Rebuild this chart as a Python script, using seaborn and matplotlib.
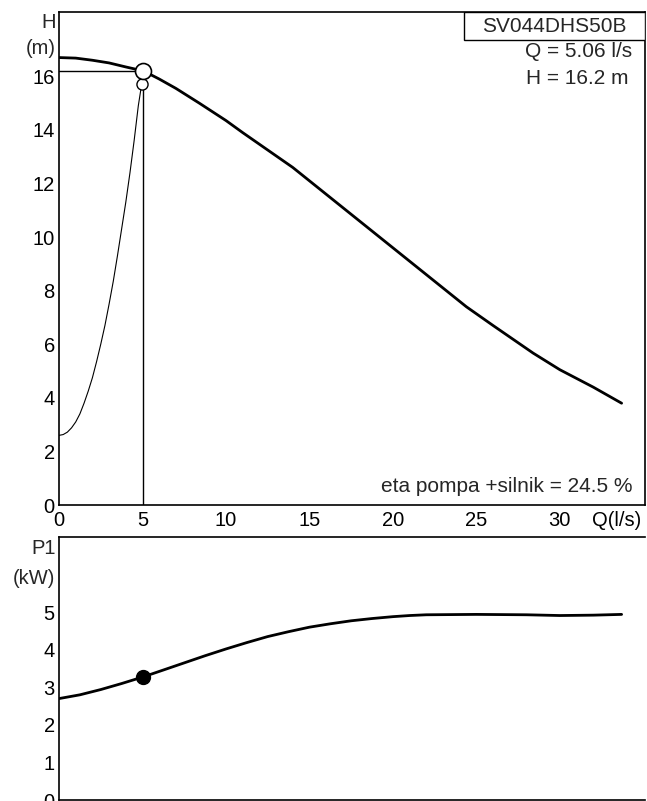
#!/usr/bin/env python3
"""Pump curve sheet: H-Q with system curve, and P1-Q below."""

import matplotlib

matplotlib.use("Agg")
import matplotlib.pyplot as plt
from matplotlib.patches import Rectangle
import pandas as pd
import seaborn as sns


# pump head curve H(Q)
Q_PUMP = [0, 1, 2, 3, 4, 5.06, 6, 7, 8.4, 10, 11, 12.5, 14, 15, 16, 17.5,
          19, 20, 21.6, 23, 24.4, 26, 28.4, 30, 32, 33.7]
H_PUMP = [16.7, 16.68, 16.6, 16.5, 16.35, 16.2, 15.9, 15.55, 15.0, 14.35,
          13.9, 13.25, 12.6, 12.1, 11.6, 10.85, 10.1, 9.6, 8.8, 8.1, 7.4,
          6.7, 5.67, 5.05, 4.4, 3.8]

# system curve
Q_SYS = [0, 0.25, 0.5, 0.75, 1.0, 1.25, 1.5, 1.75, 2.0, 2.25, 2.5, 2.75,
         3.0, 3.25, 3.5, 3.75, 4.0, 4.25, 4.5, 4.75, 4.95]
H_SYS = [2.6, 2.63, 2.72, 2.88, 3.1, 3.4, 3.8, 4.25, 4.75, 5.35, 6.0, 6.7,
         7.5, 8.35, 9.3, 10.3, 11.3, 12.4, 13.6, 14.9, 15.7]

# power input P1(Q)
Q_P1 = [0, 1.25, 2.5, 3.75, 5.06, 6.25, 7.5, 8.75, 10, 11.25, 12.5, 13.75,
        15, 16.25, 17.5, 18.75, 20, 21, 22, 25, 28, 30, 32, 33.7]
P1 = [2.70, 2.8, 2.94, 3.1, 3.28, 3.46, 3.65, 3.84, 4.02, 4.19, 4.35, 4.48,
      4.6, 4.69, 4.77, 4.83, 4.88, 4.91, 4.93, 4.94, 4.93, 4.91, 4.92, 4.94]

Q_DUTY = 5.06
H_DUTY = 16.2
H_DUTY_SYS = 15.7
P1_DUTY = 3.28

X_TICKS = [0, 5, 10, 15, 20, 25, 30]
H_TICKS = [0, 2, 4, 6, 8, 10, 12, 14, 16]
P_TICKS = [0, 1, 2, 3, 4, 5]

MODEL = "SV044DHS50B"
ETA_TEXT = "eta pompa +silnik = 24.5 %"

TICK_FS = 14.5
TEXT_FS = 15


def main() -> None:
    sns.set_theme(style="white")
    plt.rcParams["font.family"] = ["Liberation Sans", "DejaVu Sans"]

    pump = pd.DataFrame({"Q": Q_PUMP, "H": H_PUMP})
    system = pd.DataFrame({"Q": Q_SYS, "H": H_SYS})
    power = pd.DataFrame({"Q": Q_P1, "P1": P1})

    fig = plt.figure(figsize=(6.47, 8.01), dpi=100)
    ax = fig.add_axes([0.0912, 0.3695, 0.9057, 0.6155])
    ax2 = fig.add_axes([0.0912, 0.0012, 0.9057, 0.3284])

    # --- H-Q panel
    sns.lineplot(data=system, x="Q", y="H", color="black", linewidth=0.8, ax=ax)
    sns.lineplot(data=pump, x="Q", y="H", color="black", linewidth=2.0, ax=ax)
    ax.plot([Q_DUTY, Q_DUTY], [0, H_DUTY], color="black", linewidth=1.0)
    ax.plot([0, Q_DUTY], [H_DUTY, H_DUTY], color="black", linewidth=1.0)
    ax.plot([Q_DUTY - 0.1], [H_DUTY_SYS], marker="o", ms=8, mfc="white",
            mec="black", mew=1.0, zorder=5)
    ax.plot([Q_DUTY], [H_DUTY], marker="o", ms=11.5, mfc="white",
            mec="black", mew=1.2, zorder=6)

    ax.set_xlim(0, 35.1)
    ax.set_ylim(0, 18.4)
    ax.set_xticks(X_TICKS + [33.4])
    ax.set_xticklabels([str(t) for t in X_TICKS] + ["Q(l/s)"])
    ax.set_yticks(H_TICKS)
    ax.set_yticklabels([str(t) for t in H_TICKS])
    ax.tick_params(length=0, labelsize=TICK_FS, colors="black")
    ax.tick_params(axis="x", pad=4)
    ax.tick_params(axis="y", pad=3)
    ax.set_xlabel("")
    ax.set_ylabel("")
    for sp in ax.spines.values():
        sp.set_color("black")
        sp.set_linewidth(1.2)

    ytr = ax.get_yaxis_transform()
    ax.text(-0.006, 18.0, "H", transform=ytr, ha="right", va="center",
            fontsize=TICK_FS)
    ax.text(-0.006, 17.05, "(m)", transform=ytr, ha="right", va="center",
            fontsize=TICK_FS)

    ax.add_patch(Rectangle((0.691, 0.943), 0.309, 0.057, transform=ax.transAxes,
                           fc="white", ec="black", lw=1.0, zorder=7))
    ax.text(0.845, 0.9715, MODEL, transform=ax.transAxes, ha="center",
            va="center", fontsize=TEXT_FS, zorder=8)
    ax.text(0.978, 0.919, f"Q = {Q_DUTY:.2f} l/s", transform=ax.transAxes,
            ha="right", va="center", fontsize=TEXT_FS)
    ax.text(0.971, 0.866, f"H = {H_DUTY} m", transform=ax.transAxes,
            ha="right", va="center", fontsize=TEXT_FS)
    ax.text(0.979, 0.037, ETA_TEXT, transform=ax.transAxes,
            ha="right", va="center", fontsize=TEXT_FS)

    # --- P1-Q panel
    sns.lineplot(data=power, x="Q", y="P1", color="black", linewidth=2.0, ax=ax2)
    ax2.plot([Q_DUTY], [P1_DUTY], marker="o", ms=10, color="black", zorder=5)
    ax2.set_xlim(0, 35.1)
    ax2.set_ylim(0, 7.0)
    ax2.set_xticks([])
    ax2.set_yticks(P_TICKS)
    ax2.set_yticklabels([str(t) for t in P_TICKS])
    ax2.tick_params(length=0, pad=3, labelsize=TICK_FS, colors="black")
    ax2.set_xlabel("")
    ax2.set_ylabel("")
    ax2.spines["right"].set_visible(False)
    for sp in ax2.spines.values():
        sp.set_color("black")
        sp.set_linewidth(1.2)

    ytr2 = ax2.get_yaxis_transform()
    ax2.text(-0.006, 6.7, "P1", transform=ytr2, ha="right", va="center",
             fontsize=TICK_FS)
    ax2.text(-0.006, 5.9, "(kW)", transform=ytr2, ha="right", va="center",
             fontsize=TICK_FS)

    fig.savefig("out.png", dpi=100)


if __name__ == "__main__":
    main()
